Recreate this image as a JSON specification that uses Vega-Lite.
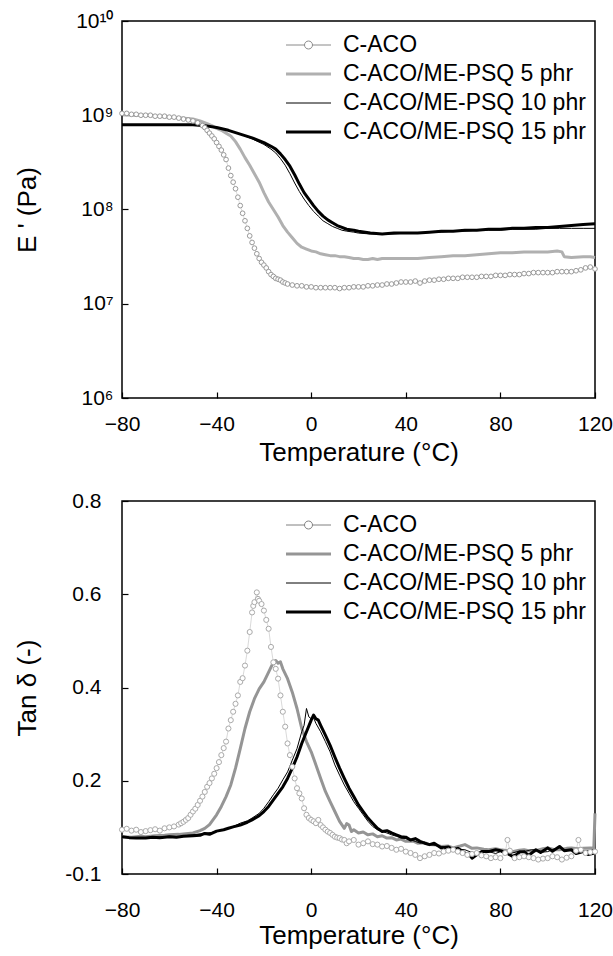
{
"$schema": "https://vega.github.io/schema/vega-lite/v6.json",
"background": "white",
"padding": {"left": 13, "top": 9, "right": 0, "bottom": 0},
"spacing": 23,
"datasets": {
"E": [
{"series":"C-ACO","temp":-80,"value":1.047e9},{"series":"C-ACO","temp":-78,"value":1.047e9},{"series":"C-ACO","temp":-76,"value":1.023e9},{"series":"C-ACO","temp":-74,"value":1.023e9},{"series":"C-ACO","temp":-72,"value":1.0e9},{"series":"C-ACO","temp":-70,"value":1.0e9},{"series":"C-ACO","temp":-68,"value":1.0e9},{"series":"C-ACO","temp":-66,"value":9.77e8},{"series":"C-ACO","temp":-64,"value":9.77e8},{"series":"C-ACO","temp":-62,"value":9.77e8},{"series":"C-ACO","temp":-60,"value":9.55e8},{"series":"C-ACO","temp":-58,"value":9.55e8},{"series":"C-ACO","temp":-56,"value":9.33e8},{"series":"C-ACO","temp":-54,"value":9.12e8},{"series":"C-ACO","temp":-52,"value":8.91e8},{"series":"C-ACO","temp":-50,"value":8.71e8},{"series":"C-ACO","temp":-48,"value":8.32e8},{"series":"C-ACO","temp":-46,"value":7.76e8},{"series":"C-ACO","temp":-45,"value":7.41e8},{"series":"C-ACO","temp":-44,"value":6.92e8},{"series":"C-ACO","temp":-43,"value":6.46e8},{"series":"C-ACO","temp":-42,"value":6.03e8},{"series":"C-ACO","temp":-41,"value":5.62e8},{"series":"C-ACO","temp":-40,"value":5.13e8},{"series":"C-ACO","temp":-39,"value":4.68e8},{"series":"C-ACO","temp":-38,"value":4.27e8},{"series":"C-ACO","temp":-37,"value":3.80e8},{"series":"C-ACO","temp":-36,"value":3.39e8},{"series":"C-ACO","temp":-35,"value":2.75e8},{"series":"C-ACO","temp":-34,"value":2.29e8},{"series":"C-ACO","temp":-33,"value":1.95e8},{"series":"C-ACO","temp":-32,"value":1.66e8},{"series":"C-ACO","temp":-31,"value":1.35e8},{"series":"C-ACO","temp":-30,"value":1.10e8},{"series":"C-ACO","temp":-29,"value":9.12e7},{"series":"C-ACO","temp":-28,"value":7.59e7},{"series":"C-ACO","temp":-27,"value":6.31e7},{"series":"C-ACO","temp":-26,"value":5.25e7},{"series":"C-ACO","temp":-25,"value":4.47e7},{"series":"C-ACO","temp":-24,"value":3.89e7},{"series":"C-ACO","temp":-23,"value":3.39e7},{"series":"C-ACO","temp":-22,"value":3.02e7},{"series":"C-ACO","temp":-21,"value":2.75e7},{"series":"C-ACO","temp":-20,"value":2.57e7},{"series":"C-ACO","temp":-19,"value":2.40e7},{"series":"C-ACO","temp":-18,"value":2.19e7},{"series":"C-ACO","temp":-17,"value":2.04e7},{"series":"C-ACO","temp":-16,"value":1.95e7},{"series":"C-ACO","temp":-15,"value":1.86e7},{"series":"C-ACO","temp":-14,"value":1.82e7},{"series":"C-ACO","temp":-13,"value":1.78e7},{"series":"C-ACO","temp":-12,"value":1.70e7},{"series":"C-ACO","temp":-11,"value":1.66e7},{"series":"C-ACO","temp":-10,"value":1.62e7},{"series":"C-ACO","temp":-8,"value":1.58e7},{"series":"C-ACO","temp":-6,"value":1.55e7},{"series":"C-ACO","temp":-4,"value":1.55e7},{"series":"C-ACO","temp":-2,"value":1.51e7},{"series":"C-ACO","temp":0,"value":1.51e7},{"series":"C-ACO","temp":2,"value":1.48e7},{"series":"C-ACO","temp":4,"value":1.48e7},{"series":"C-ACO","temp":6,"value":1.48e7},{"series":"C-ACO","temp":8,"value":1.48e7},{"series":"C-ACO","temp":10,"value":1.48e7},{"series":"C-ACO","temp":12,"value":1.45e7},{"series":"C-ACO","temp":14,"value":1.48e7},{"series":"C-ACO","temp":16,"value":1.48e7},{"series":"C-ACO","temp":18,"value":1.51e7},{"series":"C-ACO","temp":20,"value":1.51e7},{"series":"C-ACO","temp":22,"value":1.51e7},{"series":"C-ACO","temp":24,"value":1.55e7},{"series":"C-ACO","temp":26,"value":1.55e7},{"series":"C-ACO","temp":28,"value":1.58e7},{"series":"C-ACO","temp":30,"value":1.58e7},{"series":"C-ACO","temp":32,"value":1.62e7},{"series":"C-ACO","temp":34,"value":1.62e7},{"series":"C-ACO","temp":36,"value":1.66e7},{"series":"C-ACO","temp":38,"value":1.70e7},{"series":"C-ACO","temp":40,"value":1.70e7},{"series":"C-ACO","temp":42,"value":1.70e7},{"series":"C-ACO","temp":44,"value":1.74e7},{"series":"C-ACO","temp":46,"value":1.66e7},{"series":"C-ACO","temp":48,"value":1.74e7},{"series":"C-ACO","temp":50,"value":1.78e7},{"series":"C-ACO","temp":52,"value":1.78e7},{"series":"C-ACO","temp":54,"value":1.82e7},{"series":"C-ACO","temp":56,"value":1.82e7},{"series":"C-ACO","temp":58,"value":1.86e7},{"series":"C-ACO","temp":60,"value":1.86e7},{"series":"C-ACO","temp":62,"value":1.86e7},{"series":"C-ACO","temp":64,"value":1.91e7},{"series":"C-ACO","temp":66,"value":1.91e7},{"series":"C-ACO","temp":68,"value":1.91e7},{"series":"C-ACO","temp":70,"value":1.91e7},{"series":"C-ACO","temp":72,"value":1.95e7},{"series":"C-ACO","temp":74,"value":1.95e7},{"series":"C-ACO","temp":76,"value":1.95e7},{"series":"C-ACO","temp":78,"value":2.0e7},{"series":"C-ACO","temp":80,"value":2.0e7},{"series":"C-ACO","temp":82,"value":2.0e7},{"series":"C-ACO","temp":84,"value":2.04e7},{"series":"C-ACO","temp":86,"value":2.04e7},{"series":"C-ACO","temp":88,"value":2.04e7},{"series":"C-ACO","temp":90,"value":2.09e7},{"series":"C-ACO","temp":92,"value":2.09e7},{"series":"C-ACO","temp":94,"value":2.14e7},{"series":"C-ACO","temp":96,"value":2.14e7},{"series":"C-ACO","temp":98,"value":2.14e7},{"series":"C-ACO","temp":100,"value":2.14e7},{"series":"C-ACO","temp":102,"value":2.14e7},{"series":"C-ACO","temp":104,"value":2.19e7},{"series":"C-ACO","temp":106,"value":2.19e7},{"series":"C-ACO","temp":108,"value":2.19e7},{"series":"C-ACO","temp":110,"value":2.19e7},{"series":"C-ACO","temp":112,"value":2.24e7},{"series":"C-ACO","temp":114,"value":2.29e7},{"series":"C-ACO","temp":116,"value":2.40e7},{"series":"C-ACO","temp":118,"value":2.45e7},{"series":"C-ACO","temp":120,"value":2.34e7},
{"series":"5 phr","temp":-80,"value":1.02e9},{"series":"5 phr","temp":-75,"value":1.0e9},{"series":"5 phr","temp":-70,"value":1.0e9},{"series":"5 phr","temp":-65,"value":9.77e8},{"series":"5 phr","temp":-60,"value":9.55e8},{"series":"5 phr","temp":-55,"value":9.33e8},{"series":"5 phr","temp":-50,"value":9.12e8},{"series":"5 phr","temp":-47,"value":8.71e8},{"series":"5 phr","temp":-44,"value":8.13e8},{"series":"5 phr","temp":-42,"value":7.76e8},{"series":"5 phr","temp":-40,"value":7.24e8},{"series":"5 phr","temp":-38,"value":6.92e8},{"series":"5 phr","temp":-36,"value":6.46e8},{"series":"5 phr","temp":-34,"value":6.03e8},{"series":"5 phr","temp":-32,"value":5.25e8},{"series":"5 phr","temp":-30,"value":4.37e8},{"series":"5 phr","temp":-28,"value":3.55e8},{"series":"5 phr","temp":-26,"value":2.95e8},{"series":"5 phr","temp":-24,"value":2.40e8},{"series":"5 phr","temp":-22,"value":1.95e8},{"series":"5 phr","temp":-20,"value":1.51e8},{"series":"5 phr","temp":-18,"value":1.20e8},{"series":"5 phr","temp":-16,"value":1.0e8},{"series":"5 phr","temp":-14,"value":8.32e7},{"series":"5 phr","temp":-12,"value":6.76e7},{"series":"5 phr","temp":-10,"value":5.75e7},{"series":"5 phr","temp":-8,"value":5.01e7},{"series":"5 phr","temp":-6,"value":4.37e7},{"series":"5 phr","temp":-4,"value":3.98e7},{"series":"5 phr","temp":-2,"value":3.80e7},{"series":"5 phr","temp":0,"value":3.63e7},{"series":"5 phr","temp":2,"value":3.55e7},{"series":"5 phr","temp":4,"value":3.39e7},{"series":"5 phr","temp":6,"value":3.31e7},{"series":"5 phr","temp":8,"value":3.24e7},{"series":"5 phr","temp":10,"value":3.24e7},{"series":"5 phr","temp":12,"value":3.16e7},{"series":"5 phr","temp":14,"value":3.16e7},{"series":"5 phr","temp":16,"value":3.09e7},{"series":"5 phr","temp":18,"value":3.02e7},{"series":"5 phr","temp":20,"value":3.02e7},{"series":"5 phr","temp":22,"value":2.95e7},{"series":"5 phr","temp":24,"value":2.95e7},{"series":"5 phr","temp":26,"value":3.02e7},{"series":"5 phr","temp":28,"value":2.95e7},{"series":"5 phr","temp":30,"value":3.02e7},{"series":"5 phr","temp":35,"value":3.02e7},{"series":"5 phr","temp":40,"value":3.02e7},{"series":"5 phr","temp":45,"value":3.02e7},{"series":"5 phr","temp":50,"value":3.09e7},{"series":"5 phr","temp":55,"value":3.16e7},{"series":"5 phr","temp":60,"value":3.24e7},{"series":"5 phr","temp":65,"value":3.24e7},{"series":"5 phr","temp":70,"value":3.31e7},{"series":"5 phr","temp":75,"value":3.39e7},{"series":"5 phr","temp":80,"value":3.47e7},{"series":"5 phr","temp":85,"value":3.47e7},{"series":"5 phr","temp":90,"value":3.55e7},{"series":"5 phr","temp":95,"value":3.55e7},{"series":"5 phr","temp":100,"value":3.55e7},{"series":"5 phr","temp":104,"value":3.63e7},{"series":"5 phr","temp":106,"value":3.55e7},{"series":"5 phr","temp":107,"value":3.16e7},{"series":"5 phr","temp":110,"value":3.09e7},{"series":"5 phr","temp":115,"value":3.16e7},{"series":"5 phr","temp":118,"value":3.16e7},{"series":"5 phr","temp":120,"value":3.09e7},
{"series":"10 phr","temp":-80,"value":7.94e8},{"series":"10 phr","temp":-70,"value":7.94e8},{"series":"10 phr","temp":-60,"value":7.94e8},{"series":"10 phr","temp":-50,"value":7.94e8},{"series":"10 phr","temp":-45,"value":7.76e8},{"series":"10 phr","temp":-40,"value":7.41e8},{"series":"10 phr","temp":-35,"value":6.92e8},{"series":"10 phr","temp":-30,"value":6.31e8},{"series":"10 phr","temp":-25,"value":5.62e8},{"series":"10 phr","temp":-20,"value":4.90e8},{"series":"10 phr","temp":-17,"value":4.37e8},{"series":"10 phr","temp":-15,"value":3.98e8},{"series":"10 phr","temp":-13,"value":3.47e8},{"series":"10 phr","temp":-11,"value":2.95e8},{"series":"10 phr","temp":-9,"value":2.40e8},{"series":"10 phr","temp":-7,"value":1.91e8},{"series":"10 phr","temp":-5,"value":1.55e8},{"series":"10 phr","temp":-3,"value":1.29e8},{"series":"10 phr","temp":-1,"value":1.10e8},{"series":"10 phr","temp":1,"value":9.55e7},{"series":"10 phr","temp":3,"value":8.51e7},{"series":"10 phr","temp":5,"value":7.59e7},{"series":"10 phr","temp":7,"value":7.08e7},{"series":"10 phr","temp":9,"value":6.61e7},{"series":"10 phr","temp":11,"value":6.31e7},{"series":"10 phr","temp":13,"value":6.03e7},{"series":"10 phr","temp":15,"value":5.89e7},{"series":"10 phr","temp":18,"value":5.75e7},{"series":"10 phr","temp":20,"value":5.62e7},{"series":"10 phr","temp":25,"value":5.50e7},{"series":"10 phr","temp":30,"value":5.50e7},{"series":"10 phr","temp":35,"value":5.50e7},{"series":"10 phr","temp":40,"value":5.62e7},{"series":"10 phr","temp":45,"value":5.62e7},{"series":"10 phr","temp":50,"value":5.75e7},{"series":"10 phr","temp":55,"value":5.75e7},{"series":"10 phr","temp":60,"value":5.89e7},{"series":"10 phr","temp":65,"value":5.89e7},{"series":"10 phr","temp":70,"value":6.03e7},{"series":"10 phr","temp":75,"value":6.03e7},{"series":"10 phr","temp":80,"value":6.03e7},{"series":"10 phr","temp":85,"value":6.17e7},{"series":"10 phr","temp":90,"value":6.17e7},{"series":"10 phr","temp":95,"value":6.17e7},{"series":"10 phr","temp":100,"value":6.31e7},{"series":"10 phr","temp":105,"value":6.31e7},{"series":"10 phr","temp":110,"value":6.31e7},{"series":"10 phr","temp":115,"value":6.31e7},{"series":"10 phr","temp":120,"value":6.31e7},
{"series":"15 phr","temp":-80,"value":7.94e8},{"series":"15 phr","temp":-70,"value":7.94e8},{"series":"15 phr","temp":-60,"value":7.94e8},{"series":"15 phr","temp":-50,"value":7.94e8},{"series":"15 phr","temp":-45,"value":7.76e8},{"series":"15 phr","temp":-40,"value":7.41e8},{"series":"15 phr","temp":-35,"value":6.92e8},{"series":"15 phr","temp":-30,"value":6.31e8},{"series":"15 phr","temp":-25,"value":5.75e8},{"series":"15 phr","temp":-20,"value":5.13e8},{"series":"15 phr","temp":-17,"value":4.68e8},{"series":"15 phr","temp":-15,"value":4.37e8},{"series":"15 phr","temp":-13,"value":3.89e8},{"series":"15 phr","temp":-11,"value":3.39e8},{"series":"15 phr","temp":-9,"value":2.88e8},{"series":"15 phr","temp":-7,"value":2.34e8},{"series":"15 phr","temp":-5,"value":1.86e8},{"series":"15 phr","temp":-3,"value":1.51e8},{"series":"15 phr","temp":-1,"value":1.29e8},{"series":"15 phr","temp":1,"value":1.10e8},{"series":"15 phr","temp":3,"value":9.55e7},{"series":"15 phr","temp":5,"value":8.51e7},{"series":"15 phr","temp":7,"value":7.76e7},{"series":"15 phr","temp":9,"value":7.24e7},{"series":"15 phr","temp":11,"value":6.76e7},{"series":"15 phr","temp":13,"value":6.46e7},{"series":"15 phr","temp":15,"value":6.17e7},{"series":"15 phr","temp":18,"value":6.03e7},{"series":"15 phr","temp":20,"value":5.89e7},{"series":"15 phr","temp":25,"value":5.62e7},{"series":"15 phr","temp":30,"value":5.50e7},{"series":"15 phr","temp":35,"value":5.62e7},{"series":"15 phr","temp":40,"value":5.62e7},{"series":"15 phr","temp":45,"value":5.62e7},{"series":"15 phr","temp":50,"value":5.75e7},{"series":"15 phr","temp":55,"value":5.89e7},{"series":"15 phr","temp":60,"value":5.89e7},{"series":"15 phr","temp":65,"value":6.03e7},{"series":"15 phr","temp":70,"value":6.03e7},{"series":"15 phr","temp":75,"value":6.17e7},{"series":"15 phr","temp":80,"value":6.17e7},{"series":"15 phr","temp":85,"value":6.31e7},{"series":"15 phr","temp":90,"value":6.31e7},{"series":"15 phr","temp":95,"value":6.46e7},{"series":"15 phr","temp":100,"value":6.46e7},{"series":"15 phr","temp":105,"value":6.61e7},{"series":"15 phr","temp":110,"value":6.76e7},{"series":"15 phr","temp":115,"value":6.92e7},{"series":"15 phr","temp":120,"value":7.08e7}
],
"tan": [
{"series":"C-ACO","temp":-80,"value":0.095},{"series":"C-ACO","temp":-78,"value":0.097},{"series":"C-ACO","temp":-76,"value":0.093},{"series":"C-ACO","temp":-74,"value":0.095},{"series":"C-ACO","temp":-72,"value":0.090},{"series":"C-ACO","temp":-70,"value":0.092},{"series":"C-ACO","temp":-68,"value":0.094},{"series":"C-ACO","temp":-66,"value":0.096},{"series":"C-ACO","temp":-64,"value":0.093},{"series":"C-ACO","temp":-62,"value":0.098},{"series":"C-ACO","temp":-60,"value":0.100},{"series":"C-ACO","temp":-58,"value":0.102},{"series":"C-ACO","temp":-56,"value":0.106},{"series":"C-ACO","temp":-55,"value":0.109},{"series":"C-ACO","temp":-54,"value":0.112},{"series":"C-ACO","temp":-53,"value":0.116},{"series":"C-ACO","temp":-52,"value":0.120},{"series":"C-ACO","temp":-51,"value":0.127},{"series":"C-ACO","temp":-50,"value":0.134},{"series":"C-ACO","temp":-49,"value":0.140},{"series":"C-ACO","temp":-48,"value":0.148},{"series":"C-ACO","temp":-47,"value":0.157},{"series":"C-ACO","temp":-46,"value":0.166},{"series":"C-ACO","temp":-45,"value":0.176},{"series":"C-ACO","temp":-44,"value":0.187},{"series":"C-ACO","temp":-43,"value":0.195},{"series":"C-ACO","temp":-42,"value":0.205},{"series":"C-ACO","temp":-41,"value":0.215},{"series":"C-ACO","temp":-40,"value":0.227},{"series":"C-ACO","temp":-39,"value":0.240},{"series":"C-ACO","temp":-38,"value":0.255},{"series":"C-ACO","temp":-37,"value":0.270},{"series":"C-ACO","temp":-36,"value":0.284},{"series":"C-ACO","temp":-35,"value":0.312},{"series":"C-ACO","temp":-34,"value":0.330},{"series":"C-ACO","temp":-33,"value":0.348},{"series":"C-ACO","temp":-32,"value":0.365},{"series":"C-ACO","temp":-31,"value":0.383},{"series":"C-ACO","temp":-30,"value":0.412},{"series":"C-ACO","temp":-29,"value":0.420},{"series":"C-ACO","temp":-28,"value":0.447},{"series":"C-ACO","temp":-27,"value":0.479},{"series":"C-ACO","temp":-26,"value":0.519},{"series":"C-ACO","temp":-25,"value":0.561},{"series":"C-ACO","temp":-24.5,"value":0.575},{"series":"C-ACO","temp":-24,"value":0.583},{"series":"C-ACO","temp":-23,"value":0.604},{"series":"C-ACO","temp":-22.5,"value":0.590},{"series":"C-ACO","temp":-22,"value":0.586},{"series":"C-ACO","temp":-21,"value":0.579},{"series":"C-ACO","temp":-20,"value":0.565},{"series":"C-ACO","temp":-19,"value":0.545},{"series":"C-ACO","temp":-18,"value":0.526},{"series":"C-ACO","temp":-17,"value":0.487},{"series":"C-ACO","temp":-16,"value":0.454},{"series":"C-ACO","temp":-15,"value":0.440},{"series":"C-ACO","temp":-14,"value":0.419},{"series":"C-ACO","temp":-13,"value":0.383},{"series":"C-ACO","temp":-12,"value":0.348},{"series":"C-ACO","temp":-11,"value":0.316},{"series":"C-ACO","temp":-10,"value":0.280},{"series":"C-ACO","temp":-9,"value":0.255},{"series":"C-ACO","temp":-8,"value":0.230},{"series":"C-ACO","temp":-7,"value":0.205},{"series":"C-ACO","temp":-6,"value":0.184},{"series":"C-ACO","temp":-5,"value":0.173},{"series":"C-ACO","temp":-4,"value":0.162},{"series":"C-ACO","temp":-3,"value":0.141},{"series":"C-ACO","temp":-2,"value":0.127},{"series":"C-ACO","temp":-1,"value":0.120},{"series":"C-ACO","temp":0,"value":0.116},{"series":"C-ACO","temp":1,"value":0.113},{"series":"C-ACO","temp":2,"value":0.109},{"series":"C-ACO","temp":3,"value":0.116},{"series":"C-ACO","temp":4,"value":0.105},{"series":"C-ACO","temp":5,"value":0.100},{"series":"C-ACO","temp":6,"value":0.095},{"series":"C-ACO","temp":7,"value":0.091},{"series":"C-ACO","temp":8,"value":0.088},{"series":"C-ACO","temp":9,"value":0.084},{"series":"C-ACO","temp":10,"value":0.080},{"series":"C-ACO","temp":11,"value":0.078},{"series":"C-ACO","temp":12,"value":0.077},{"series":"C-ACO","temp":13,"value":0.074},{"series":"C-ACO","temp":14,"value":0.073},{"series":"C-ACO","temp":15,"value":0.066},{"series":"C-ACO","temp":16,"value":0.070},{"series":"C-ACO","temp":18,"value":0.073},{"series":"C-ACO","temp":20,"value":0.063},{"series":"C-ACO","temp":22,"value":0.066},{"series":"C-ACO","temp":24,"value":0.070},{"series":"C-ACO","temp":26,"value":0.064},{"series":"C-ACO","temp":28,"value":0.063},{"series":"C-ACO","temp":30,"value":0.059},{"series":"C-ACO","temp":32,"value":0.060},{"series":"C-ACO","temp":34,"value":0.056},{"series":"C-ACO","temp":36,"value":0.052},{"series":"C-ACO","temp":38,"value":0.054},{"series":"C-ACO","temp":40,"value":0.048},{"series":"C-ACO","temp":42,"value":0.045},{"series":"C-ACO","temp":44,"value":0.041},{"series":"C-ACO","temp":46,"value":0.034},{"series":"C-ACO","temp":48,"value":0.038},{"series":"C-ACO","temp":50,"value":0.041},{"series":"C-ACO","temp":52,"value":0.045},{"series":"C-ACO","temp":54,"value":0.044},{"series":"C-ACO","temp":56,"value":0.048},{"series":"C-ACO","temp":58,"value":0.050},{"series":"C-ACO","temp":60,"value":0.052},{"series":"C-ACO","temp":62,"value":0.048},{"series":"C-ACO","temp":64,"value":0.045},{"series":"C-ACO","temp":66,"value":0.041},{"series":"C-ACO","temp":68,"value":0.043},{"series":"C-ACO","temp":70,"value":0.045},{"series":"C-ACO","temp":72,"value":0.040},{"series":"C-ACO","temp":74,"value":0.038},{"series":"C-ACO","temp":76,"value":0.034},{"series":"C-ACO","temp":78,"value":0.036},{"series":"C-ACO","temp":80,"value":0.034},{"series":"C-ACO","temp":82,"value":0.045},{"series":"C-ACO","temp":83,"value":0.073},{"series":"C-ACO","temp":84,"value":0.050},{"series":"C-ACO","temp":86,"value":0.034},{"series":"C-ACO","temp":88,"value":0.036},{"series":"C-ACO","temp":90,"value":0.038},{"series":"C-ACO","temp":92,"value":0.036},{"series":"C-ACO","temp":94,"value":0.034},{"series":"C-ACO","temp":96,"value":0.031},{"series":"C-ACO","temp":98,"value":0.033},{"series":"C-ACO","temp":100,"value":0.034},{"series":"C-ACO","temp":102,"value":0.038},{"series":"C-ACO","temp":104,"value":0.036},{"series":"C-ACO","temp":106,"value":0.031},{"series":"C-ACO","temp":108,"value":0.035},{"series":"C-ACO","temp":110,"value":0.038},{"series":"C-ACO","temp":112,"value":0.050},{"series":"C-ACO","temp":113,"value":0.073},{"series":"C-ACO","temp":114,"value":0.052},{"series":"C-ACO","temp":116,"value":0.045},{"series":"C-ACO","temp":118,"value":0.047},{"series":"C-ACO","temp":120,"value":0.048},
{"series":"5 phr","temp":-80,"value":0.080},{"series":"5 phr","temp":-76,"value":0.079},{"series":"5 phr","temp":-72,"value":0.081},{"series":"5 phr","temp":-70,"value":0.080},{"series":"5 phr","temp":-66,"value":0.082},{"series":"5 phr","temp":-62,"value":0.083},{"series":"5 phr","temp":-60,"value":0.084},{"series":"5 phr","temp":-56,"value":0.085},{"series":"5 phr","temp":-52,"value":0.087},{"series":"5 phr","temp":-50,"value":0.088},{"series":"5 phr","temp":-47,"value":0.093},{"series":"5 phr","temp":-45,"value":0.098},{"series":"5 phr","temp":-43,"value":0.106},{"series":"5 phr","temp":-42,"value":0.113},{"series":"5 phr","temp":-40,"value":0.127},{"series":"5 phr","temp":-38,"value":0.145},{"series":"5 phr","temp":-36,"value":0.166},{"series":"5 phr","temp":-34,"value":0.191},{"series":"5 phr","temp":-32,"value":0.227},{"series":"5 phr","temp":-30,"value":0.269},{"series":"5 phr","temp":-28,"value":0.312},{"series":"5 phr","temp":-26,"value":0.348},{"series":"5 phr","temp":-24,"value":0.376},{"series":"5 phr","temp":-22,"value":0.397},{"series":"5 phr","temp":-20,"value":0.412},{"series":"5 phr","temp":-18,"value":0.433},{"series":"5 phr","temp":-16,"value":0.454},{"series":"5 phr","temp":-15,"value":0.458},{"series":"5 phr","temp":-14,"value":0.452},{"series":"5 phr","temp":-13,"value":0.455},{"series":"5 phr","temp":-12,"value":0.440},{"series":"5 phr","temp":-10,"value":0.419},{"series":"5 phr","temp":-8,"value":0.390},{"series":"5 phr","temp":-6,"value":0.355},{"series":"5 phr","temp":-4,"value":0.312},{"series":"5 phr","temp":-2,"value":0.284},{"series":"5 phr","temp":0,"value":0.262},{"series":"5 phr","temp":2,"value":0.234},{"series":"5 phr","temp":4,"value":0.205},{"series":"5 phr","temp":6,"value":0.177},{"series":"5 phr","temp":8,"value":0.155},{"series":"5 phr","temp":10,"value":0.134},{"series":"5 phr","temp":12,"value":0.113},{"series":"5 phr","temp":14,"value":0.098},{"series":"5 phr","temp":15,"value":0.108},{"series":"5 phr","temp":16,"value":0.105},{"series":"5 phr","temp":17,"value":0.091},{"series":"5 phr","temp":18,"value":0.095},{"series":"5 phr","temp":20,"value":0.088},{"series":"5 phr","temp":22,"value":0.090},{"series":"5 phr","temp":24,"value":0.084},{"series":"5 phr","temp":26,"value":0.086},{"series":"5 phr","temp":28,"value":0.080},{"series":"5 phr","temp":30,"value":0.082},{"series":"5 phr","temp":32,"value":0.077},{"series":"5 phr","temp":34,"value":0.078},{"series":"5 phr","temp":36,"value":0.073},{"series":"5 phr","temp":38,"value":0.075},{"series":"5 phr","temp":40,"value":0.070},{"series":"5 phr","temp":43,"value":0.071},{"series":"5 phr","temp":45,"value":0.066},{"series":"5 phr","temp":48,"value":0.067},{"series":"5 phr","temp":50,"value":0.063},{"series":"5 phr","temp":53,"value":0.062},{"series":"5 phr","temp":55,"value":0.059},{"series":"5 phr","temp":58,"value":0.060},{"series":"5 phr","temp":60,"value":0.056},{"series":"5 phr","temp":63,"value":0.060},{"series":"5 phr","temp":65,"value":0.063},{"series":"5 phr","temp":68,"value":0.055},{"series":"5 phr","temp":70,"value":0.056},{"series":"5 phr","temp":73,"value":0.053},{"series":"5 phr","temp":75,"value":0.052},{"series":"5 phr","temp":78,"value":0.054},{"series":"5 phr","temp":80,"value":0.052},{"series":"5 phr","temp":83,"value":0.050},{"series":"5 phr","temp":85,"value":0.048},{"series":"5 phr","temp":88,"value":0.051},{"series":"5 phr","temp":90,"value":0.052},{"series":"5 phr","temp":93,"value":0.049},{"series":"5 phr","temp":95,"value":0.050},{"series":"5 phr","temp":98,"value":0.054},{"series":"5 phr","temp":100,"value":0.056},{"series":"5 phr","temp":103,"value":0.052},{"series":"5 phr","temp":105,"value":0.052},{"series":"5 phr","temp":108,"value":0.055},{"series":"5 phr","temp":110,"value":0.056},{"series":"5 phr","temp":113,"value":0.054},{"series":"5 phr","temp":115,"value":0.055},{"series":"5 phr","temp":118,"value":0.056},{"series":"5 phr","temp":119.5,"value":0.055},{"series":"5 phr","temp":120,"value":0.13},
{"series":"10 phr","temp":-80,"value":0.080},{"series":"10 phr","temp":-76,"value":0.078},{"series":"10 phr","temp":-72,"value":0.076},{"series":"10 phr","temp":-70,"value":0.077},{"series":"10 phr","temp":-66,"value":0.079},{"series":"10 phr","temp":-62,"value":0.080},{"series":"10 phr","temp":-60,"value":0.081},{"series":"10 phr","temp":-56,"value":0.080},{"series":"10 phr","temp":-52,"value":0.083},{"series":"10 phr","temp":-50,"value":0.084},{"series":"10 phr","temp":-47,"value":0.086},{"series":"10 phr","temp":-45,"value":0.088},{"series":"10 phr","temp":-42,"value":0.089},{"series":"10 phr","temp":-40,"value":0.091},{"series":"10 phr","temp":-37,"value":0.095},{"series":"10 phr","temp":-35,"value":0.098},{"series":"10 phr","temp":-32,"value":0.104},{"series":"10 phr","temp":-30,"value":0.109},{"series":"10 phr","temp":-27,"value":0.114},{"series":"10 phr","temp":-25,"value":0.120},{"series":"10 phr","temp":-22,"value":0.130},{"series":"10 phr","temp":-20,"value":0.141},{"series":"10 phr","temp":-18,"value":0.155},{"series":"10 phr","temp":-16,"value":0.170},{"series":"10 phr","temp":-14,"value":0.184},{"series":"10 phr","temp":-12,"value":0.202},{"series":"10 phr","temp":-10,"value":0.219},{"series":"10 phr","temp":-8,"value":0.244},{"series":"10 phr","temp":-6,"value":0.269},{"series":"10 phr","temp":-4,"value":0.305},{"series":"10 phr","temp":-3,"value":0.319},{"series":"10 phr","temp":-2,"value":0.355},{"series":"10 phr","temp":-1,"value":0.337},{"series":"10 phr","temp":0,"value":0.333},{"series":"10 phr","temp":1,"value":0.335},{"series":"10 phr","temp":2,"value":0.323},{"series":"10 phr","temp":4,"value":0.305},{"series":"10 phr","temp":6,"value":0.284},{"series":"10 phr","temp":8,"value":0.262},{"series":"10 phr","temp":10,"value":0.234},{"series":"10 phr","temp":12,"value":0.212},{"series":"10 phr","temp":14,"value":0.191},{"series":"10 phr","temp":16,"value":0.173},{"series":"10 phr","temp":18,"value":0.155},{"series":"10 phr","temp":20,"value":0.141},{"series":"10 phr","temp":22,"value":0.127},{"series":"10 phr","temp":24,"value":0.113},{"series":"10 phr","temp":26,"value":0.102},{"series":"10 phr","temp":28,"value":0.095},{"series":"10 phr","temp":30,"value":0.091},{"series":"10 phr","temp":32,"value":0.088},{"series":"10 phr","temp":34,"value":0.084},{"series":"10 phr","temp":36,"value":0.081},{"series":"10 phr","temp":38,"value":0.077},{"series":"10 phr","temp":40,"value":0.076},{"series":"10 phr","temp":42,"value":0.073},{"series":"10 phr","temp":44,"value":0.070},{"series":"10 phr","temp":46,"value":0.066},{"series":"10 phr","temp":48,"value":0.068},{"series":"10 phr","temp":50,"value":0.063},{"series":"10 phr","temp":53,"value":0.061},{"series":"10 phr","temp":55,"value":0.059},{"series":"10 phr","temp":58,"value":0.057},{"series":"10 phr","temp":60,"value":0.056},{"series":"10 phr","temp":63,"value":0.053},{"series":"10 phr","temp":65,"value":0.052},{"series":"10 phr","temp":68,"value":0.046},{"series":"10 phr","temp":70,"value":0.045},{"series":"10 phr","temp":73,"value":0.050},{"series":"10 phr","temp":75,"value":0.048},{"series":"10 phr","temp":78,"value":0.044},{"series":"10 phr","temp":80,"value":0.048},{"series":"10 phr","temp":83,"value":0.043},{"series":"10 phr","temp":85,"value":0.045},{"series":"10 phr","temp":88,"value":0.049},{"series":"10 phr","temp":90,"value":0.048},{"series":"10 phr","temp":93,"value":0.052},{"series":"10 phr","temp":95,"value":0.052},{"series":"10 phr","temp":98,"value":0.047},{"series":"10 phr","temp":100,"value":0.048},{"series":"10 phr","temp":103,"value":0.054},{"series":"10 phr","temp":105,"value":0.056},{"series":"10 phr","temp":108,"value":0.050},{"series":"10 phr","temp":110,"value":0.052},{"series":"10 phr","temp":113,"value":0.047},{"series":"10 phr","temp":115,"value":0.048},{"series":"10 phr","temp":118,"value":0.051},{"series":"10 phr","temp":120,"value":0.052},
{"series":"15 phr","temp":-80,"value":0.080},{"series":"15 phr","temp":-77,"value":0.078},{"series":"15 phr","temp":-74,"value":0.077},{"series":"15 phr","temp":-70,"value":0.077},{"series":"15 phr","temp":-67,"value":0.079},{"series":"15 phr","temp":-64,"value":0.078},{"series":"15 phr","temp":-60,"value":0.080},{"series":"15 phr","temp":-57,"value":0.079},{"series":"15 phr","temp":-54,"value":0.081},{"series":"15 phr","temp":-50,"value":0.082},{"series":"15 phr","temp":-47,"value":0.083},{"series":"15 phr","temp":-45,"value":0.087},{"series":"15 phr","temp":-43,"value":0.085},{"series":"15 phr","temp":-40,"value":0.092},{"series":"15 phr","temp":-37,"value":0.095},{"series":"15 phr","temp":-35,"value":0.098},{"series":"15 phr","temp":-33,"value":0.101},{"series":"15 phr","temp":-30,"value":0.105},{"series":"15 phr","temp":-27,"value":0.111},{"series":"15 phr","temp":-25,"value":0.116},{"series":"15 phr","temp":-22,"value":0.125},{"series":"15 phr","temp":-20,"value":0.134},{"series":"15 phr","temp":-18,"value":0.145},{"series":"15 phr","temp":-16,"value":0.159},{"series":"15 phr","temp":-14,"value":0.173},{"series":"15 phr","temp":-12,"value":0.187},{"series":"15 phr","temp":-10,"value":0.205},{"series":"15 phr","temp":-8,"value":0.227},{"series":"15 phr","temp":-6,"value":0.251},{"series":"15 phr","temp":-4,"value":0.280},{"series":"15 phr","temp":-2,"value":0.305},{"series":"15 phr","temp":0,"value":0.330},{"series":"15 phr","temp":1,"value":0.341},{"series":"15 phr","temp":2,"value":0.333},{"series":"15 phr","temp":3,"value":0.330},{"series":"15 phr","temp":4,"value":0.319},{"series":"15 phr","temp":6,"value":0.298},{"series":"15 phr","temp":8,"value":0.276},{"series":"15 phr","temp":10,"value":0.251},{"series":"15 phr","temp":12,"value":0.227},{"series":"15 phr","temp":14,"value":0.205},{"series":"15 phr","temp":16,"value":0.184},{"series":"15 phr","temp":18,"value":0.166},{"series":"15 phr","temp":20,"value":0.148},{"series":"15 phr","temp":22,"value":0.134},{"series":"15 phr","temp":24,"value":0.120},{"series":"15 phr","temp":26,"value":0.109},{"series":"15 phr","temp":28,"value":0.098},{"series":"15 phr","temp":30,"value":0.091},{"series":"15 phr","temp":32,"value":0.093},{"series":"15 phr","temp":34,"value":0.088},{"series":"15 phr","temp":36,"value":0.084},{"series":"15 phr","temp":38,"value":0.080},{"series":"15 phr","temp":40,"value":0.079},{"series":"15 phr","temp":42,"value":0.073},{"series":"15 phr","temp":44,"value":0.076},{"series":"15 phr","temp":46,"value":0.070},{"series":"15 phr","temp":48,"value":0.066},{"series":"15 phr","temp":50,"value":0.063},{"series":"15 phr","temp":52,"value":0.066},{"series":"15 phr","temp":55,"value":0.056},{"series":"15 phr","temp":58,"value":0.058},{"series":"15 phr","temp":60,"value":0.052},{"series":"15 phr","temp":62,"value":0.055},{"series":"15 phr","temp":65,"value":0.045},{"series":"15 phr","temp":67,"value":0.040},{"series":"15 phr","temp":68,"value":0.034},{"series":"15 phr","temp":70,"value":0.041},{"series":"15 phr","temp":72,"value":0.048},{"series":"15 phr","temp":75,"value":0.048},{"series":"15 phr","temp":78,"value":0.052},{"series":"15 phr","temp":80,"value":0.050},{"series":"15 phr","temp":83,"value":0.044},{"series":"15 phr","temp":85,"value":0.038},{"series":"15 phr","temp":87,"value":0.042},{"series":"15 phr","temp":88,"value":0.047},{"series":"15 phr","temp":90,"value":0.048},{"series":"15 phr","temp":92,"value":0.040},{"series":"15 phr","temp":95,"value":0.052},{"series":"15 phr","temp":97,"value":0.046},{"series":"15 phr","temp":100,"value":0.056},{"series":"15 phr","temp":102,"value":0.049},{"series":"15 phr","temp":105,"value":0.059},{"series":"15 phr","temp":107,"value":0.050},{"series":"15 phr","temp":110,"value":0.052},{"series":"15 phr","temp":112,"value":0.044},{"series":"15 phr","temp":115,"value":0.048},{"series":"15 phr","temp":117,"value":0.042},{"series":"15 phr","temp":120,"value":0.045}
]
},
"vconcat": [
{
"width": 473, "height": 377,
"data": {"name": "E"},
"encoding": {
"x": {"field": "temp", "type": "quantitative", "scale": {"domain": [-80, 120], "nice": false}, "axis": {"values": [-80, -40, 0, 40, 80, 120], "title": "Temperature (°C)", "labelPadding": 21, "titlePadding": 5}},
"y": {"field": "value", "type": "quantitative", "scale": {"type": "log", "domain": [1e6, 1e10], "nice": false}, "axis": {"values": [1e6, 1e7, 1e8, 1e9, 1e10], "title": "E ' (Pa)", "labelPadding": 15, "minExtent": 60, "maxExtent": 60, "titlePadding": 22, "labelExpr": "datum.value >= 5e9 ? '10¹⁰' : datum.value >= 5e8 ? '10⁹' : datum.value >= 5e7 ? '10⁸' : datum.value >= 5e6 ? '10⁷' : '10⁶'"}}
},
"layer": [
{
"mark": {"type": "line", "strokeJoin": "round"},
"encoding": {
"color": {"field": "series", "type": "nominal", "scale": {"domain": ["C-ACO", "5 phr", "10 phr", "15 phr"], "range": ["#8a8a8a", "#b0b0b0", "#000000", "#000000"]},
 "legend": {"orient": "none", "legendX": 175, "legendY": 12.5, "title": null, "direction": "vertical", "labelFontSize": 23, "labelFont": "Liberation Sans", "labelColor": "black", "labelLimit": 400, "symbolSize": 400, "labelOffset": 23, "rowPadding": 5,
 "labelExpr": "datum.label == 'C-ACO' ? 'C-ACO' : 'C-ACO/ME-PSQ ' + datum.label",
 "encode": {"symbols": {"update": {"shape": {"signal": "datum.value == 'C-ACO' ? 'M-2.25,0H-0.4M0.4,0H2.25M-0.4,0A0.4,0.4,0,1,0,0.4,0A0.4,0.4,0,1,0,-0.4,0' : 'M-2.25,0H2.25'"}, "strokeWidth": {"signal": "datum.value == '5 phr' || datum.value == '15 phr' ? 4.5 : 1.3"}, "fill": {"signal": "datum.value == 'C-ACO' ? 'white' : 'transparent'"}}}}}},
"strokeWidth": {"field": "series", "type": "nominal", "scale": {"type": "ordinal", "domain": ["C-ACO", "5 phr", "10 phr", "15 phr"], "range": [1, 3, 1, 3]}, "legend": null},
"strokeOpacity": {"condition": {"test": "datum.series == 'C-ACO'", "value": 0.3}, "value": 1}
}
},
{
"transform": [{"filter": "datum.series == 'C-ACO'"}],
"mark": {"type": "point", "shape": "circle", "filled": true, "fill": "white", "stroke": "#999999", "strokeWidth": 1, "size": 22, "opacity": 1}
}
]
},
{
"width": 473, "height": 373,
"data": {"name": "tan"},
"encoding": {
"x": {"field": "temp", "type": "quantitative", "scale": {"domain": [-80, 120], "nice": false}, "axis": {"values": [-80, -40, 0, 40, 80, 120], "title": "Temperature (°C)", "labelPadding": 31, "titlePadding": 2}},
"y": {"field": "value", "type": "quantitative", "scale": {"domain": [0, 0.8], "nice": false}, "axis": {"values": [0, 0.2, 0.4, 0.6, 0.8], "title": "Tan δ (-)", "labelPadding": 27, "minExtent": 60, "maxExtent": 60, "titlePadding": 22, "labelExpr": "datum.value < 0.01 ? '-0.1' : format(datum.value, '.1f')"}}
},
"layer": [
{
"mark": {"type": "line", "strokeJoin": "round"},
"encoding": {
"color": {"field": "series", "type": "nominal", "scale": {"domain": ["C-ACO", "5 phr", "10 phr", "15 phr"], "range": ["#808080", "#959595", "#000000", "#000000"]},
 "legend": {"orient": "none", "legendX": 175, "legendY": 12.5, "title": null, "direction": "vertical", "labelFontSize": 23, "labelFont": "Liberation Sans", "labelColor": "black", "labelLimit": 400, "symbolSize": 400, "labelOffset": 23, "rowPadding": 5,
 "labelExpr": "datum.label == 'C-ACO' ? 'C-ACO' : 'C-ACO/ME-PSQ ' + datum.label",
 "encode": {"symbols": {"update": {"shape": {"signal": "datum.value == 'C-ACO' ? 'M-2.25,0H-0.4M0.4,0H2.25M-0.4,0A0.4,0.4,0,1,0,0.4,0A0.4,0.4,0,1,0,-0.4,0' : 'M-2.25,0H2.25'"}, "strokeWidth": {"signal": "datum.value == '5 phr' || datum.value == '15 phr' ? 4.5 : 1.3"}, "fill": {"signal": "datum.value == 'C-ACO' ? 'white' : 'transparent'"}}}}}},
"strokeWidth": {"field": "series", "type": "nominal", "scale": {"type": "ordinal", "domain": ["C-ACO", "5 phr", "10 phr", "15 phr"], "range": [1, 3, 1, 3]}, "legend": null},
"strokeOpacity": {"condition": {"test": "datum.series == 'C-ACO'", "value": 0.3}, "value": 1}
}
},
{
"transform": [{"filter": "datum.series == 'C-ACO'"}],
"mark": {"type": "point", "shape": "circle", "filled": true, "fill": "white", "stroke": "#aaaaaa", "strokeWidth": 1, "size": 26, "opacity": 1}
}
]
}
],
"resolve": {"scale": {"color": "independent", "strokeWidth": "independent"}, "legend": {"color": "independent"}},
"config": {
"font": "Liberation Sans",
"view": {"stroke": "black", "strokeWidth": 1.5},
"axis": {"grid": false, "domain": false, "labelFont": "Liberation Sans", "titleFont": "Liberation Sans", "labelFontSize": 21, "titleFontSize": 26, "titleFontWeight": "normal", "labelColor": "black", "titleColor": "black", "tickColor": "black", "tickSize": -6, "tickWidth": 1.2, "labelFlush": false}
}
}
